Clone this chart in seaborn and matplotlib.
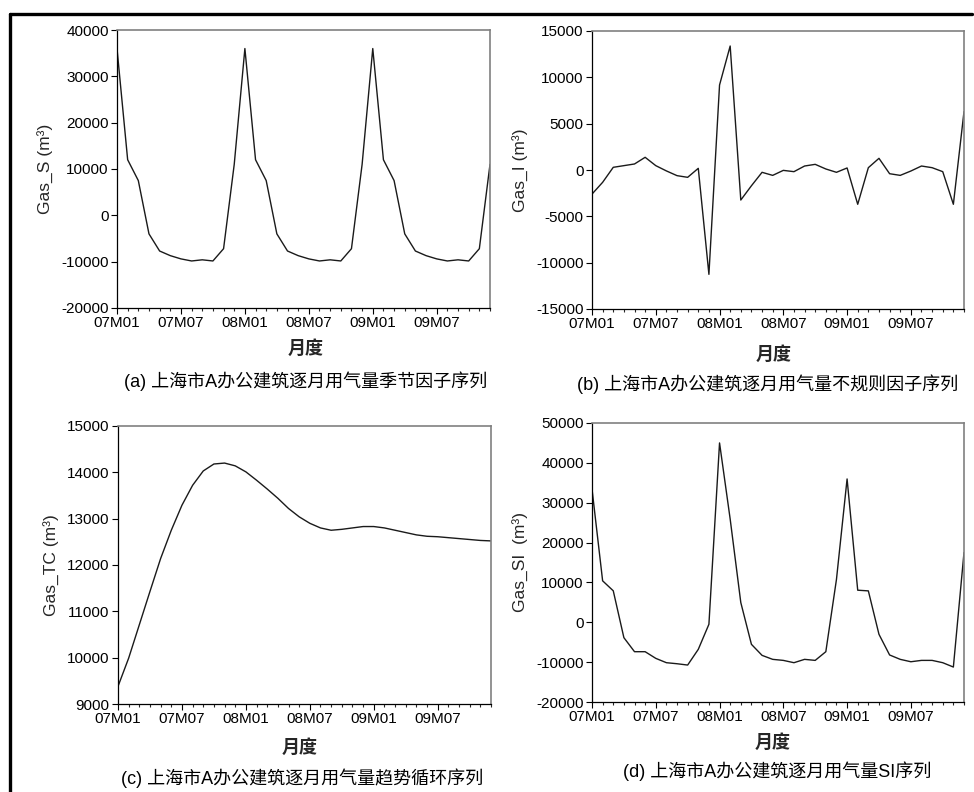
import numpy as np
import pandas as pd
import matplotlib
matplotlib.use("Agg")
import matplotlib.pyplot as plt
from matplotlib.lines import Line2D
from matplotlib.ticker import MultipleLocator, FixedLocator
import seaborn as sns

# Monthly series, 2007-01 .. 2009-12
months = [f"{y:02d}M{m:02d}" for y in (7, 8, 9) for m in range(1, 13)]
tick_labels = ["07M01", "07M07", "08M01", "08M07", "09M01", "09M07"]

gas_s = [36000, 12000, 7500, -4000, -7700, -8700, -9400, -9850, -9600, -9850, -7200, 11000,
         36000, 12000, 7500, -4000, -7700, -8700, -9400, -9850, -9600, -9850, -7200, 11000,
         36000, 12000, 7500, -4000, -7700, -8700, -9400, -9850, -9600, -9850, -7200, 11000]

gas_i = [-2600, -1330, 290, 470, 650, 1370, 470, -100, -610, -790, 180, -11260,
         9170, 13380, -3240, -1700, -250, -580, -40, -180, 430, 610, 110, -250,
         220, -3700, 250, 1260, -400, -580, -110, 430, 250, -180, -3700, 6300]

gas_tc = [9380, 9990, 10710, 11430, 12140, 12750, 13290, 13720, 14030, 14180, 14200, 14140,
          14010, 13830, 13640, 13440, 13220, 13040, 12900, 12800, 12750, 12770, 12800, 12830,
          12830, 12800, 12750, 12700, 12650, 12620, 12610, 12590, 12570, 12550, 12530, 12520]

gas_si = [33450, 10400, 7900, -3860, -7380, -7380, -9050, -10140, -10400, -10730, -6790, -500,
          45000, 25900, 4950, -5530, -8300, -9300, -9560, -10140, -9300, -9560, -7380, 10750,
          35960, 8050, 7880, -3020, -8200, -9300, -9900, -9560, -9560, -10140, -11230, 17500]

df = pd.DataFrame({"t": np.arange(len(months)), "month": months,
                   "S": gas_s, "I": gas_i, "TC": gas_tc, "SI": gas_si})

sns.set_style("ticks")
plt.rcParams["font.family"] = ["Liberation Sans", "Noto Sans CJK SC", "DejaVu Sans"]
plt.rcParams["axes.unicode_minus"] = False

W, H = 974, 792
fig = plt.figure(figsize=(W / 100, H / 100), dpi=100)
fig.patch.set_facecolor("white")


def px_axes(left, top, right, bottom):
    return fig.add_axes([left / W, 1 - bottom / H, (right - left) / W, (bottom - top) / H])


panels = [
    dict(col="S", box=(117, 30, 490, 308), ylim=(-20000, 40000), step=10000,
         ylabel="Gas_S (m³)",
         xl=(306, 349), cap=(306, 381), caption="(a) 上海市A办公建筑逐月用气量季节因子序列"),
    dict(col="I", box=(592, 31, 964, 309), ylim=(-15000, 15000), step=5000,
         ylabel="Gas_I (m³)",
         xl=(774, 355), cap=(768, 384), caption="(b) 上海市A办公建筑逐月用气量不规则因子序列"),
    dict(col="TC", box=(118, 426, 491, 704), ylim=(9000, 15000), step=1000,
         ylabel="Gas_TC (m³)",
         xl=(300, 748), cap=(302, 778), caption="(c) 上海市A办公建筑逐月用气量趋势循环序列"),
    dict(col="SI", box=(592, 423, 964, 702), ylim=(-20000, 50000), step=10000,
         ylabel="Gas_SI  (m³)",
         xl=(773, 743), cap=(777, 771), caption="(d) 上海市A办公建筑逐月用气量SI序列"),
]

for p in panels:
    ax = px_axes(*p["box"])
    sns.lineplot(data=df, x="t", y=p["col"], ax=ax, color="#1a1a1a", linewidth=1.0)
    ax.set_xlim(0, len(months) - 1)
    ax.set_ylim(*p["ylim"])
    ax.yaxis.set_major_locator(MultipleLocator(p["step"]))
    ax.xaxis.set_major_locator(FixedLocator([months.index(m) for m in tick_labels]))
    ax.set_xticklabels(tick_labels)
    ax.xaxis.set_minor_locator(MultipleLocator(1))
    ax.tick_params(axis="both", which="major", direction="out", length=4, width=0.8,
                   labelsize=11, colors="black", pad=2)
    ax.tick_params(axis="x", which="minor", direction="out", length=2.5, width=0.8)
    for side in ("left", "bottom"):
        ax.spines[side].set_color("black")
        ax.spines[side].set_linewidth(0.9)
    for side in ("top", "right"):
        ax.spines[side].set_visible(True)
        ax.spines[side].set_color("#808080")
        ax.spines[side].set_linewidth(1.2)
    ax.set_xlabel("")
    ax.set_ylabel(p["ylabel"], fontsize=12.5, labelpad=5)
    fig.text(p["xl"][0] / W, 1 - p["xl"][1] / H, "月度", ha="center", va="center",
             fontsize=13, fontweight="bold")
    fig.text(p["cap"][0] / W, 1 - p["cap"][1] / H, p["caption"], ha="center", va="center",
             fontsize=13, color="black")

# Outer frame on the top and left edges
fig.add_artist(Line2D([10 / W, 972 / W], [1 - 14 / H, 1 - 14 / H], color="black",
                      linewidth=2.4, transform=fig.transFigure))
fig.add_artist(Line2D([10 / W, 10 / W], [1 - 14 / H, 0], color="black",
                      linewidth=2.4, transform=fig.transFigure))

fig.savefig("out.png", dpi=100)
